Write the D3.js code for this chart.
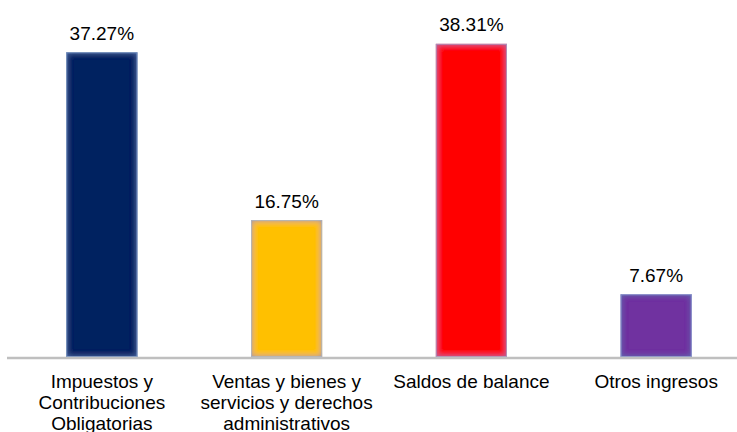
<!DOCTYPE html>
<html><head><meta charset="utf-8">
<script src="https://cdn.jsdelivr.net/npm/d3@7"></script>
<style>html,body{margin:0;padding:0;background:#fff;}svg{display:block;}</style>
</head><body>
<svg id="chart" width="737" height="432"></svg>
<script>
const categories = ["Impuestos y\nContribuciones\nObligatorias", "Ventas y bienes y\nservicios y derechos\nadministrativos", "Saldos de balance", "Otros ingresos"];
const values = [37.27, 16.75, 38.31, 7.67];
const colors = ["#002060", "#ffc000", "#ff0000", "#7030a0"];
const valueLabels = ["37.27%", "16.75%", "38.31%", "7.67%"];

const svg = d3.select("#chart");
const baseY = 357;
const x = d3.scaleBand().domain(categories).range([9, 749]).paddingInner(0.615).paddingOuter(0.31);
const y = d3.scaleLinear().domain([0, 40]).range([baseY, baseY - 40 * 8.175]);

const defs = svg.append("defs");
const f = defs.append("filter").attr("id", "glow").attr("x", "-10%").attr("y", "-10%").attr("width", "120%").attr("height", "120%");
f.append("feGaussianBlur").attr("in", "SourceAlpha").attr("stdDeviation", 3).attr("result", "blur");
f.append("feComposite").attr("in", "SourceAlpha").attr("in2", "blur").attr("operator", "out").attr("result", "inv");
f.append("feFlood").attr("flood-color", "#5577b8").attr("flood-opacity", 0.85).attr("result", "col");
f.append("feComposite").attr("in", "col").attr("in2", "inv").attr("operator", "in").attr("result", "gl");
const m = f.append("feMerge");
m.append("feMergeNode").attr("in", "SourceGraphic");
m.append("feMergeNode").attr("in", "gl");

svg.selectAll("rect.bar").data(values).join("rect").attr("class", "bar")
  .attr("x", (d, i) => x(categories[i]))
  .attr("y", d => y(d))
  .attr("width", x.bandwidth())
  .attr("height", d => baseY - y(d))
  .attr("fill", (d, i) => colors[i])
  .attr("filter", "url(#glow)");

svg.selectAll("rect.edge").data(values).join("rect").attr("class", "edge")
  .attr("x", (d, i) => x(categories[i]) + 0.5)
  .attr("y", d => y(d) + 0.5)
  .attr("width", x.bandwidth() - 1)
  .attr("height", d => baseY - y(d) - 1)
  .attr("fill", "none").attr("stroke", "#9cbde3").attr("stroke-width", 1).attr("stroke-opacity", 0.55);

svg.append("line").attr("x1", 7).attr("x2", 737).attr("y1", baseY + 1).attr("y2", baseY + 1)
  .attr("stroke", "#bfbfbf").attr("stroke-width", 2.5);

svg.selectAll("text.val").data(values).join("text").attr("class", "val")
  .attr("x", (d, i) => x(categories[i]) + x.bandwidth() / 2)
  .attr("y", d => y(d) - 12.5)
  .attr("text-anchor", "middle")
  .attr("font-family", "Liberation Sans, Arial, sans-serif").attr("font-size", 19).attr("fill", "#000")
  .text((d, i) => valueLabels[i]);

const cat = svg.selectAll("text.cat").data(categories).join("text").attr("class", "cat")
  .attr("text-anchor", "middle")
  .attr("font-family", "Liberation Sans, Arial, sans-serif").attr("font-size", 19).attr("fill", "#000");
cat.each(function(d) {
  const t = d3.select(this);
  const cx = x(d) + x.bandwidth() / 2;
  d.split("\n").forEach((ln, j) => {
    t.append("tspan").attr("x", cx).attr("y", baseY + 30.5 + j * 21).text(ln);
  });
});
</script>
</body></html>
